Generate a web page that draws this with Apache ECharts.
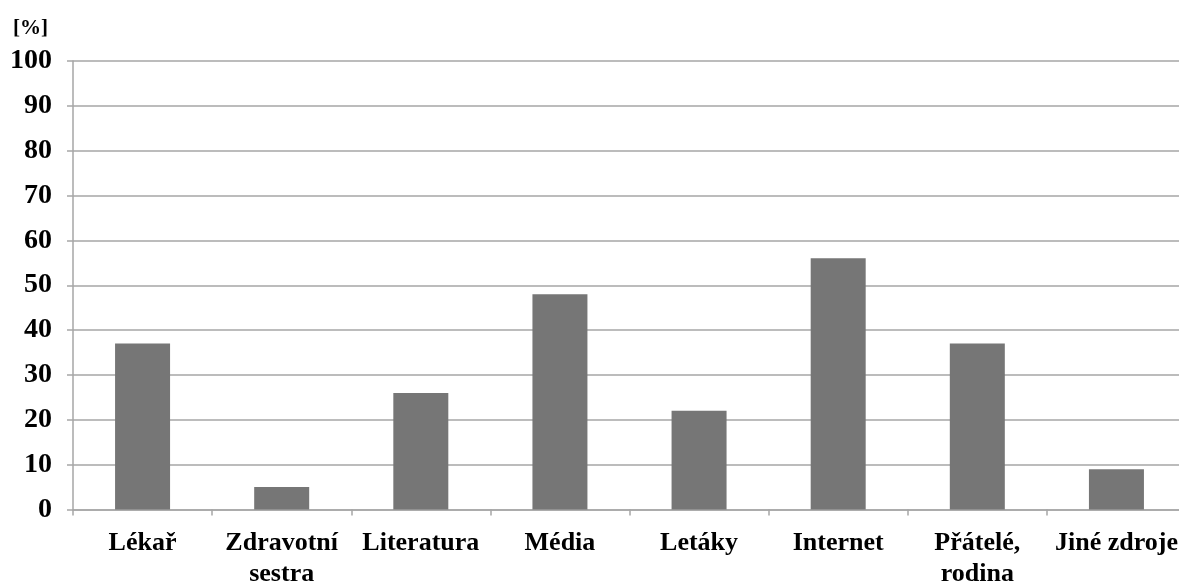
<!DOCTYPE html>
<html>
<head>
<meta charset="utf-8">
<script src="https://cdn.jsdelivr.net/npm/echarts@6/dist/echarts.min.js"></script>
<style>
html,body{margin:0;padding:0;background:#fff;}
#c{width:1179px;height:585px;}
</style>
</head>
<body>
<div id="c"></div>
<script>
const categories = ['Lékař', 'Zdravotní\nsestra', 'Literatura', 'Média', 'Letáky', 'Internet', 'Přátelé,\nrodina', 'Jiné zdroje'];
const values = [37, 5, 26, 48, 22, 56, 37, 9];
const yAxisName = '[%]';

const chart = echarts.init(document.getElementById('c'), null, {renderer: 'canvas'});
const font = '"Liberation Serif", "Times New Roman", serif';
chart.setOption({
  animation: false,
  grid: {left: 73, right: -7, top: 61, bottom: 75.5, containLabel: false, outerBoundsMode: 'none'},
  xAxis: {
    type: 'category',
    data: categories,
    axisLine: {lineStyle: {color: '#a6a6a6', width: 1.5}},
    axisTick: {show: true, alignWithLabel: false, length: 6, lineStyle: {color: '#a6a6a6', width: 1.5}},
    axisLabel: {
      interval: 0, margin: 18, color: '#000', fontFamily: font, fontWeight: 'bold', fontSize: 26, lineHeight: 31
    }
  },
  yAxis: {
    type: 'value',
    min: 0, max: 100, interval: 10,
    name: yAxisName,
    nameLocation: 'end',
    nameGap: 22,
    nameTextStyle: {color: '#000', fontFamily: font, fontWeight: 'bold', fontSize: 21, align: 'right', padding: [0, 25, 0, 0]},
    axisLine: {show: true, lineStyle: {color: '#a6a6a6', width: 1.5}},
    axisTick: {show: true, length: 6, lineStyle: {color: '#a6a6a6', width: 1.5}},
    splitLine: {lineStyle: {color: '#a6a6a6', width: 1.5}},
    axisLabel: {margin: 21, color: '#000', fontFamily: font, fontWeight: 'bold', fontSize: 28}
  },
  series: [{
    type: 'bar',
    data: values,
    barWidth: 55,
    itemStyle: {color: '#767676'}
  }]
});
</script>
</body>
</html>
